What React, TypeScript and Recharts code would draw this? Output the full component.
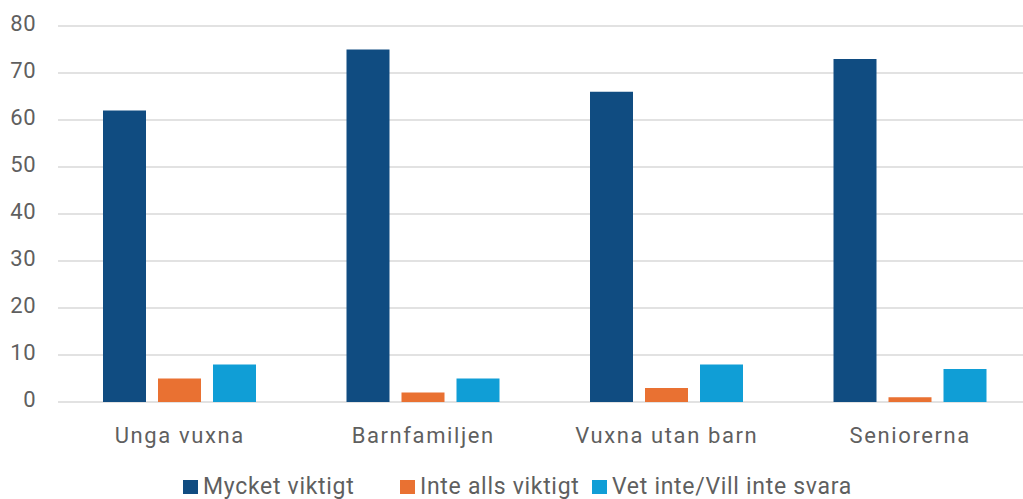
import React from "react";
import { BarChart, Bar, XAxis, YAxis, CartesianGrid, Legend } from "recharts";

const categories = ["Unga vuxna", "Barnfamiljen", "Vuxna utan barn", "Seniorerna"];
const mycketViktigt = [62, 75, 66, 73];
const inteAllsViktigt = [5, 2, 3, 1];
const vetInte = [8, 5, 8, 7];
const yTicks = [0, 10, 20, 30, 40, 50, 60, 70, 80];

const seriesNames = ["Mycket viktigt", "Inte alls viktigt", "Vet inte/Vill inte svara"];
const colors = ["#104c81", "#e97132", "#109ed6"];

const data = categories.map((c, i) => ({
  name: c,
  a: mycketViktigt[i],
  b: inteAllsViktigt[i],
  c: vetInte[i],
}));

const FONT = "Roboto, 'DejaVu Sans', sans-serif";
const TEXT = "#5f5f5f";

const YTick = (props: any) => {
  const { x, y, payload } = props;
  return (
    <text x={x} y={y + 4.7} textAnchor="end" fill={TEXT} fontSize={22} fontFamily={FONT} letterSpacing={0.5}>
      {payload.value}
    </text>
  );
};

const XTick = (props: any) => {
  const { x, y, payload } = props;
  return (
    <text x={x} y={y + 41} textAnchor="middle" fill={TEXT} fontSize={22} fontFamily={FONT} letterSpacing={1.6}>
      {payload.value}
    </text>
  );
};

const itemLefts = [183, 400, 592];

const LegendContent = () => (
  <div style={{ position: "relative", height: 30, width: 1023 }}>
    {seriesNames.map((n, i) => (
      <div
        key={n}
        style={{
          position: "absolute",
          left: itemLefts[i],
          top: 0,
          height: 30,
          paddingTop: 6,
          boxSizing: "border-box",
          display: "flex",
          alignItems: "center",
          whiteSpace: "nowrap",
        }}
      >
        <span style={{ display: "inline-block", width: 15, height: 14, background: colors[i], marginRight: 5 }} />
        <span style={{ fontFamily: FONT, fontSize: 23, color: TEXT, letterSpacing: 0.7, lineHeight: "24px" }}>{n}</span>
      </div>
    ))}
  </div>
);

export default function App() {
  return (
    <div style={{ position: "absolute", left: 0, top: 0, width: 1023, height: 499, overflow: "hidden", background: "#fff" }}>
      <BarChart
        width={1032}
        height={499}
        data={data}
        margin={{ top: 26, right: 0, left: 0, bottom: 0 }}
        barGap={12}
      >
        <CartesianGrid vertical={false} stroke="#d9d9d9" strokeWidth={1.5} />
        <XAxis
          dataKey="name"
          axisLine={false}
          tickLine={false}
          tickSize={0}
          tickMargin={0}
          height={67}
          tick={<XTick />}
          interval={0}
        />
        <YAxis
          domain={[0, 80]}
          ticks={yTicks}
          axisLine={false}
          tickLine={false}
          tickSize={0}
          tickMargin={22}
          width={58}
          tick={<YTick />}
          interval={0}
        />
        <Legend
          verticalAlign="bottom"
          height={30}
          wrapperStyle={{ left: 0, width: 1023, bottom: 0, height: 30 }}
          content={<LegendContent />}
        />
        <Bar dataKey="a" name={seriesNames[0]} fill={colors[0]} barSize={43} isAnimationActive={false} />
        <Bar dataKey="b" name={seriesNames[1]} fill={colors[1]} barSize={43} isAnimationActive={false} />
        <Bar dataKey="c" name={seriesNames[2]} fill={colors[2]} barSize={43} isAnimationActive={false} />
      </BarChart>
    </div>
  );
}
